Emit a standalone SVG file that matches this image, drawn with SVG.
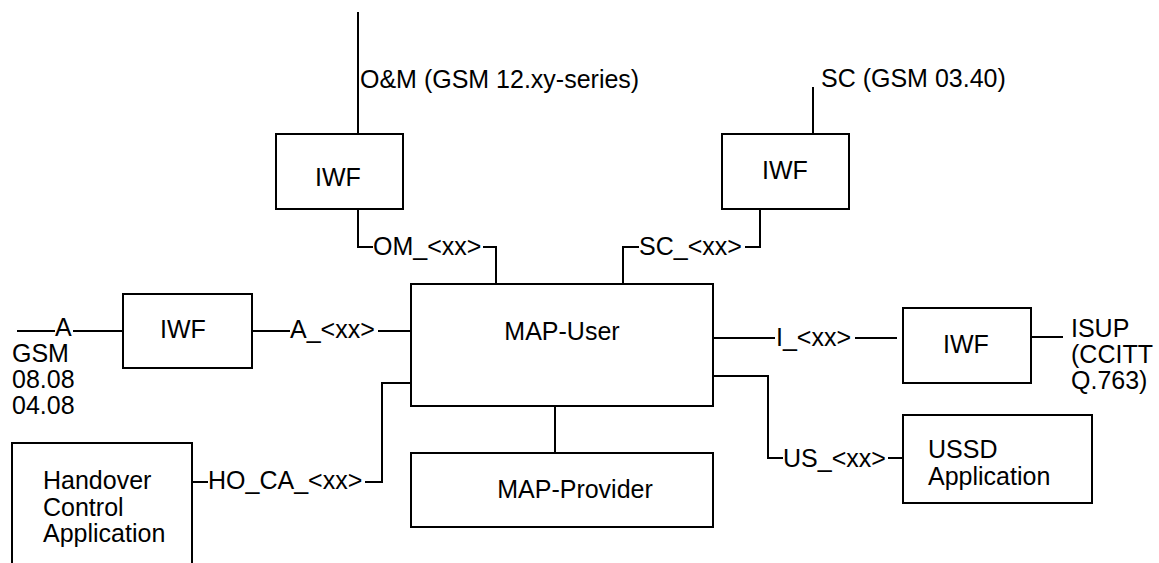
<svg xmlns="http://www.w3.org/2000/svg" width="1159" height="563" viewBox="0 0 1159 563">
<style>
.box{fill:#fff;stroke:#000;stroke-width:2}
.ln{fill:none;stroke:#000;stroke-width:2}
text{font-family:"Liberation Sans",Arial,sans-serif;font-size:25px;fill:#000}
.c{text-anchor:middle}
</style>
<rect width="1159" height="563" fill="#fff"/>
<g id="connectors">
<path class="ln" d="M358,12V134"/>
<path class="ln" d="M813,87V134"/>
<path class="ln" d="M358,209V247H373M483,247H496V285"/>
<path class="ln" d="M760,209V247H745M639,247H623V285"/>
<path class="ln" d="M17,331H55M73,331H123"/>
<path class="ln" d="M252,331H290M378,331H411"/>
<path class="ln" d="M411,383H382V482H365M208,482H192"/>
<path class="ln" d="M555,406V453"/>
<path class="ln" d="M713,338H775M855,338H897"/>
<path class="ln" d="M1031,337H1063"/>
<path class="ln" d="M713,376H768V458H783M888,458H903"/>
<text x="360" y="88">O&amp;M (GSM 12.xy-series)</text>
<text x="821" y="87">SC (GSM 03.40)</text>
<text x="373" y="255">OM_&lt;xx&gt;</text>
<text x="639" y="255">SC_&lt;xx&gt;</text>
<text x="55" y="336">A</text>
<text x="12" y="362">GSM</text>
<text x="12" y="388">08.08</text>
<text x="12" y="414">04.08</text>
<text x="290" y="338">A_&lt;xx&gt;</text>
<text x="208" y="489">HO_CA_&lt;xx&gt;</text>
<text x="776" y="346">I_&lt;xx&gt;</text>
<text x="783" y="467">US_&lt;xx&gt;</text>
<text x="1071" y="337">ISUP</text>
<text x="1071" y="363">(CCITT</text>
<text x="1071" y="389">Q.763)</text>
</g>
<g id="iwf-om">
<rect class="box" x="276" y="134" width="127" height="75"/>
<text class="c" x="338" y="186">IWF</text>
</g>
<g id="iwf-sc">
<rect class="box" x="722" y="134" width="127" height="75"/>
<text class="c" x="785" y="179">IWF</text>
</g>
<g id="iwf-a">
<rect class="box" x="123" y="294" width="129" height="74"/>
<text class="c" x="183" y="338">IWF</text>
</g>
<g id="map-user">
<rect class="box" x="411" y="284" width="302" height="122"/>
<text class="c" x="562" y="340">MAP-User</text>
</g>
<g id="map-provider">
<rect class="box" x="411" y="453" width="302" height="74"/>
<text class="c" x="575" y="498">MAP-Provider</text>
</g>
<g id="iwf-i">
<rect class="box" x="903" y="308" width="128" height="75"/>
<text class="c" x="966" y="353">IWF</text>
</g>
<g id="ussd">
<rect class="box" x="903" y="415" width="189" height="88"/>
<text x="928" y="458">USSD</text>
<text x="928" y="485">Application</text>
</g>
<g id="handover">
<rect class="box" x="12" y="443" width="180" height="140"/>
<text x="43" y="489">Handover</text>
<text x="43" y="516">Control</text>
<text x="43" y="542">Application</text>
</g>
</svg>
